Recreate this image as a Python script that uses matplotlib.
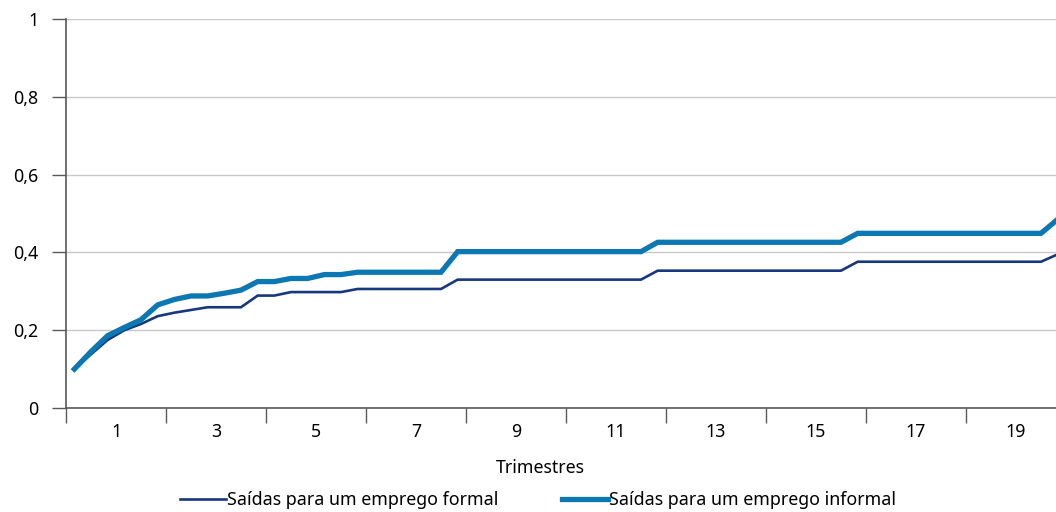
import numpy as np
import matplotlib
matplotlib.use('Agg')
import matplotlib.pyplot as plt

plt.rcParams['font.family'] = ['Noto Sans', 'DejaVu Sans']

# 60 pontos (3 por trimestre), trimestres 1..20
formal = [0.100, 0.138, 0.175, 0.200, 0.216, 0.236, 0.245, 0.252, 0.259, 0.259,
          0.259, 0.289, 0.289, 0.298, 0.298, 0.298, 0.298, 0.306, 0.306, 0.306,
          0.306, 0.306, 0.306, 0.330, 0.330, 0.330, 0.330, 0.330, 0.330, 0.330,
          0.330, 0.330, 0.330, 0.330, 0.330, 0.353, 0.353, 0.353, 0.353, 0.353,
          0.353, 0.353, 0.353, 0.353, 0.353, 0.353, 0.353, 0.376, 0.376, 0.376,
          0.376, 0.376, 0.376, 0.376, 0.376, 0.376, 0.376, 0.376, 0.376, 0.395]
informal = [0.100, 0.145, 0.186, 0.207, 0.227, 0.265, 0.279, 0.288, 0.288, 0.295,
            0.303, 0.325, 0.325, 0.333, 0.333, 0.343, 0.343, 0.349, 0.349, 0.349,
            0.349, 0.349, 0.349, 0.402, 0.402, 0.402, 0.402, 0.402, 0.402, 0.402,
            0.402, 0.402, 0.402, 0.402, 0.402, 0.426, 0.426, 0.426, 0.426, 0.426,
            0.426, 0.426, 0.426, 0.426, 0.426, 0.426, 0.426, 0.449, 0.449, 0.449,
            0.449, 0.449, 0.449, 0.449, 0.449, 0.449, 0.449, 0.449, 0.449, 0.485]
trimestres = ['1', '3', '5', '7', '9', '11', '13', '15', '17', '19']
y_ticks = [0, 0.2, 0.4, 0.6, 0.8, 1.0]
y_labels = ['0', '0,2', '0,4', '0,6', '0,8', '1']

NAVY, BLUE = '#17387e', '#0b77b3'
AXC = '#595959'

fig = plt.figure(figsize=(10.56, 5.12), dpi=100)
ax = fig.add_axes([66 / 1056, 104 / 512, 1000 / 1056, 389 / 512])

x = np.arange(len(formal)) + 0.5
ax.plot(x, formal, color=NAVY, lw=1.9, solid_joinstyle='miter', zorder=3,
        label='Saídas para um emprego formal')
ax.plot(x, informal, color=BLUE, lw=3.8, solid_joinstyle='miter', zorder=3,
        label='Saídas para um emprego informal')

ax.set_xlim(0, 60)
ax.set_ylim(0, 1)
ax.set_xticks(np.arange(0, 61, 6))
ax.set_xticklabels([])
ax.set_xticks(np.arange(3, 60, 6), minor=True)
ax.set_xticklabels(trimestres, minor=True)
ax.tick_params(axis='x', which='major', length=11, color=AXC, width=1)
ax.tick_params(axis='x', which='minor', length=0, pad=11, labelsize=12.8)
ax.set_yticks(y_ticks)
ax.set_yticklabels(y_labels)
ax.tick_params(axis='y', length=10, color=AXC, width=1, pad=10, labelsize=12.8)

ax.yaxis.grid(True, color='#c8c8c8', lw=1)
ax.set_axisbelow(True)
for s in ['top', 'right']:
    ax.spines[s].set_visible(False)
for s in ['left', 'bottom']:
    ax.spines[s].set_color(AXC)
    ax.spines[s].set_linewidth(1.2)

fig.text(540 / 1056, 1 - 468 / 512, 'Trimestres', ha='center', va='center', fontsize=12.8)
fig.legend(loc='center', bbox_to_anchor=(538 / 1056, 1 - 500 / 512), ncol=2,
           frameon=False, fontsize=12.8, handlelength=2.6, handletextpad=0.05,
           columnspacing=3.6)

fig.savefig('out.png', dpi=100, facecolor='white')
